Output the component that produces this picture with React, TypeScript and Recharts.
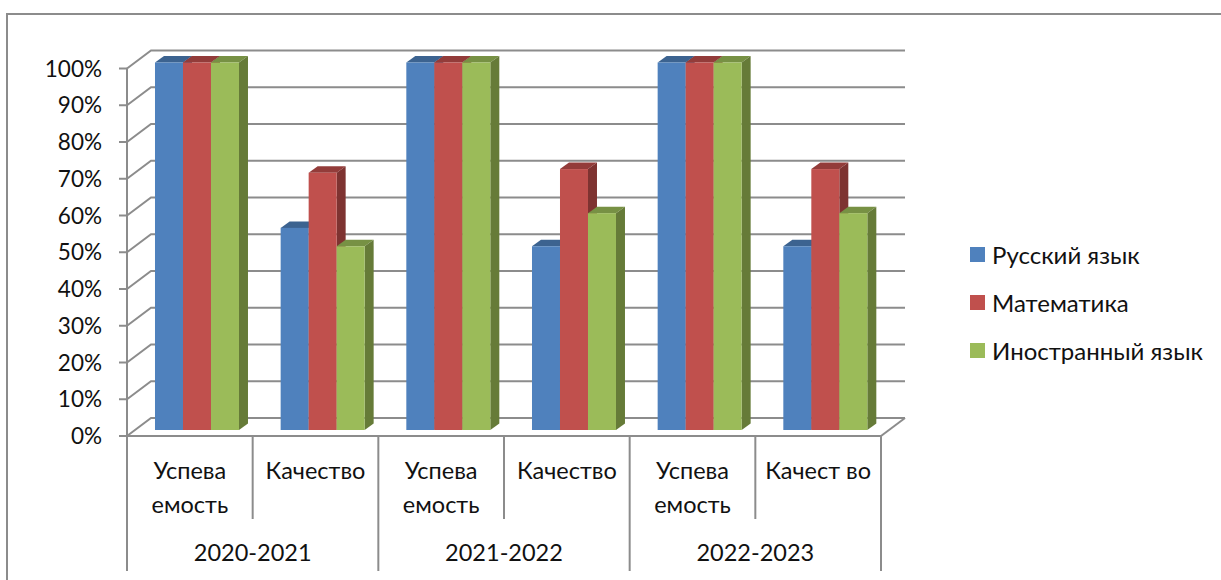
import React from "react";
import {
  BarChart,
  Bar,
  XAxis,
  YAxis,
  CartesianGrid,
  Legend,
  usePlotArea,
} from "recharts";

const periods = [
  "Успева\nемость",
  "Качество",
  "Успева\nемость",
  "Качество",
  "Успева\nемость",
  "Качест во",
];
const years = ["2020-2021", "2021-2022", "2022-2023"];
const russian = [100, 55, 100, 50, 100, 50];
const math = [100, 70, 100, 71, 100, 71];
const foreign = [100, 50, 100, 59, 100, 59];
const yTicks = [0, 10, 20, 30, 40, 50, 60, 70, 80, 90, 100];

const chartData = periods.map((period, i) => ({
  period: `${i}|${period}`,
  russian: russian[i],
  math: math[i],
  foreign: foreign[i],
}));

const FONT = "Lato, 'Open Sans', sans-serif";
const AXIS = "#8c8c8c";
const TEXT = "#111";

// fake 3d: the bars stand in the middle of the floor
const FRONT = { dx: -7, dy: 6 };
const BACK = { dx: 17, dy: -12 };
const DEPTH = { dx: 9, dy: -6.5 };

const Bar3D = ({ x, y, width, height, fill, top, side }: any) => {
  const r = x + width;
  const b = y + height;
  const { dx, dy } = DEPTH;
  return (
    <g>
      <polygon
        points={`${x},${y} ${x + dx},${y + dy} ${r + dx},${y + dy} ${r},${y}`}
        fill={top}
      />
      <polygon
        points={`${r},${y} ${r + dx},${y + dy} ${r + dx},${b + dy} ${r},${b}`}
        fill={side}
      />
      <rect x={x} y={y} width={width} height={height} fill={fill} />
    </g>
  );
};

const GridLine = ({ x1, x2, y1 }: any) => (
  <polyline
    points={`${x1 + FRONT.dx},${y1 + FRONT.dy} ${x1 + BACK.dx},${y1 + BACK.dy} ${x2 + BACK.dx},${y1 + BACK.dy}`}
    fill="none"
    stroke={AXIS}
    strokeWidth={2}
  />
);

const AxisFrame = () => {
  const plot = usePlotArea();
  if (!plot) return null;
  const left = plot.x + FRONT.dx;
  const right = plot.x + plot.width + FRONT.dx;
  const top = plot.y + FRONT.dy;
  const bottom = plot.y + plot.height + FRONT.dy;
  const depthX = BACK.dx - FRONT.dx;
  const depthY = BACK.dy - FRONT.dy;
  return (
    <g stroke={AXIS} strokeWidth={2} fill="none">
      <line x1={left} y1={top} x2={left} y2={bottom} />
      <line x1={left} y1={bottom} x2={right} y2={bottom} />
      <line x1={right} y1={bottom} x2={right + depthX} y2={bottom + depthY} />
    </g>
  );
};

const YTick = ({ x, y, payload }: any) => (
  <g>
    <line
      x1={x + FRONT.dx - 8}
      x2={x + FRONT.dx}
      y1={y + FRONT.dy}
      y2={y + FRONT.dy}
      stroke={AXIS}
      strokeWidth={2}
    />
    <text
      x={x - 32}
      y={y + FRONT.dy + 8}
      textAnchor="end"
      fontFamily={FONT}
      fontSize={22.5}
      fill={TEXT}
    >
      {payload.value}%
    </text>
  </g>
);

const XTick = ({ x, y, payload, index, width, visibleTicksCount }: any) => {
  const band = width / visibleTicksCount;
  const lines = String(payload.value).split("|")[1].split("\n");
  const rightEdge = x + band / 2 + FRONT.dx;
  const isYearEnd = index % 2 === 1;
  return (
    <g>
      {index === 0 && (
        <line
          x1={x - band / 2 + FRONT.dx}
          x2={x - band / 2 + FRONT.dx}
          y1={y}
          y2={571}
          stroke={AXIS}
          strokeWidth={2}
        />
      )}
      <line
        x1={rightEdge}
        x2={rightEdge}
        y1={y}
        y2={isYearEnd ? 571 : 519}
        stroke={AXIS}
        strokeWidth={2}
      />
      {lines.map((line, i) => (
        <text
          key={i}
          x={x + FRONT.dx}
          y={479 + i * 34}
          textAnchor="middle"
          fontFamily={FONT}
          fontSize={23.5}
          fill={TEXT}
        >
          {line}
        </text>
      ))}
      {!isYearEnd && (
        <text
          x={rightEdge}
          y={561}
          textAnchor="middle"
          fontFamily={FONT}
          fontSize={23.5}
          fill={TEXT}
        >
          {years[index / 2]}
        </text>
      )}
    </g>
  );
};

const LegendBox = ({ payload }: any) => (
  <div style={{ fontFamily: FONT, fontSize: 24, color: TEXT }}>
    {(payload || []).map((item: any) => (
      <div
        key={item.value}
        style={{ display: "flex", alignItems: "center", height: 48, whiteSpace: "nowrap" }}
      >
        <span
          style={{ width: 15, height: 15, background: item.color, marginRight: 7 }}
        />
        {item.value}
      </div>
    ))}
  </div>
);

const App = () => {
  return (
    <div
      style={{
        position: "absolute",
        left: 0,
        top: 0,
        width: 1221,
        height: 580,
        overflow: "hidden",
        background: "#fff",
      }}
    >
      <div
        style={{
          position: "absolute",
          left: 6,
          top: 13,
          width: 1300,
          height: 700,
          borderLeft: `2px solid ${AXIS}`,
          borderTop: `2px solid ${AXIS}`,
        }}
      />
      <BarChart
        width={1221}
        height={580}
        data={chartData}
        margin={{ top: 62.5, right: 88, bottom: 0, left: 0 }}
        barCategoryGap="16.7%"
        barGap={0}
        style={{ position: "absolute", left: 0, top: 0 }}
      >
        <CartesianGrid
          vertical={false}
          horizontal={(props: any) => <GridLine key={props.key} {...props} />}
        />
        <XAxis
          dataKey="period"
          height={150}
          axisLine={false}
          tickLine={false}
          tickSize={0}
          tickMargin={6}
          interval={0}
          tick={<XTick />}
        />
        <YAxis
          width={134}
          domain={[0, 100]}
          ticks={yTicks}
          axisLine={false}
          tickLine={false}
          tickSize={0}
          tickMargin={0}
          interval={0}
          tick={<YTick />}
        />
        <AxisFrame />
        <Legend
          layout="vertical"
          align="right"
          verticalAlign="top"
          itemSorter={null}
          wrapperStyle={{ left: 970, top: 230, width: 245 }}
          content={<LegendBox />}
        />
        <Bar
          dataKey="russian"
          name="Русский язык"
          fill="#4F81BD"
          isAnimationActive={false}
          shape={(p: any) => <Bar3D {...p} top="#3C6390" side="#375A85" />}
        />
        <Bar
          dataKey="math"
          name="Математика"
          fill="#C0504D"
          isAnimationActive={false}
          shape={(p: any) => <Bar3D {...p} top="#933C3A" side="#7E3331" />}
        />
        <Bar
          dataKey="foreign"
          name="Иностранный язык"
          fill="#9BBB59"
          isAnimationActive={false}
          shape={(p: any) => <Bar3D {...p} top="#779144" side="#667B38" />}
        />
      </BarChart>
    </div>
  );
};

export default App;
